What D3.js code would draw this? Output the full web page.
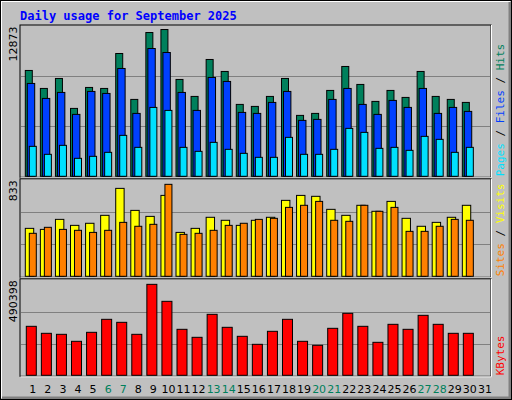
<!DOCTYPE html>
<html><head><meta charset="utf-8">
<script src="https://cdn.jsdelivr.net/npm/d3@7"></script>
<style>body{margin:0;background:#fff}svg{display:block}</style>
</head><body>
<script>
const days = d3.range(1, 32);
const weekends = [6,7,13,14,20,21,27,28];
const hits  = [9095,7550,8408,5834,7636,7550,10553,6607,12355,12613,8323,6864,10039,9009,6178,6006,6864,8408,5234,5405,7379,9438,7894,6435,7379,6778,9009,6864,6607,6349];
const files = [7979,6692,7207,5320,7293,7121,9266,5405,10982,10639,7207,5663,8494,8151,5491,5405,6349,7293,4805,4891,6607,7550,6178,5320,6521,5920,7550,5405,5920,5577];
const pages = [2574,1888,2660,1544,1716,2059,3518,2488,5920,5663,2488,2145,2917,2317,1973,1630,1630,3346,1888,1888,2317,4118,3775,2402,2488,2231,3432,3175,2059,2488];
const visits= [416,407,494,442,460,529,763,572,520,702,381,416,512,486,442,486,512,659,702,694,581,529,616,564,650,503,434,468,512,616];
const sites = [373,425,407,399,381,399,468,434,451,798,364,373,399,442,460,494,503,598,616,650,486,477,616,564,598,390,390,434,494,486];
const kbytes= [252840,216720,211560,175440,221880,288960,273480,211560,469560,381840,237360,196080,314760,247680,201240,159960,227040,288960,175440,154800,242520,319920,252840,170280,263160,237360,309600,263160,216720,216720];
const maxHits = 12873, maxVisits = 833, maxKB = 490398;
const title = "Daily usage for September 2025";

const W=512,H=400, font="'DejaVu Sans Mono', monospace";
const svg=d3.select("body").append("svg").attr("width",W).attr("height",H);
svg.append("rect").attr("x",0).attr("y",0).attr("width",W).attr("height",H).attr("fill","#C0C0C0");
// bevel
svg.append("path").attr("d","M1,398V1H510").attr("stroke","#fff").attr("fill","none").attr("stroke-width",2);
svg.append("path").attr("d","M2,398H510V2").attr("stroke","#808080").attr("fill","none").attr("stroke-width",3);
svg.append("rect").attr("x",0.5).attr("y",0.5).attr("width",W-1).attr("height",H-1).attr("fill","none").attr("stroke","#000");

svg.append("text").attr("x",20).attr("y",20).text(title).attr("font-family",font)
  .attr("font-size",12).attr("font-weight","bold").attr("fill","#0000FF");

const x = d3.scaleLinear().domain([1,2]).range([25.3,40.37]); // slot left edge

const panels=[
 {y0:26.5,y1:176.3,max:maxHits,label:"12873",series:[[hits,0,7,"#00805C"],[files,2,7.4,"#0040FF"],[pages,4,7,"#00E0FF"]],
  legend:[["Pages","#00E0FF"],[" / ","#000"],["Files","#0040FF"],[" / ","#000"],["Hits","#00805C"]]},
 {y0:180.3,y1:276.3,max:maxVisits,label:"833",series:[[visits,0,8.4,"#FFFF00"],[sites,4,7,"#FF8000"]],
  legend:[["Sites","#FF8000"],[" / ","#000"],["Visits","#FFFF00"]]},
 {y0:280.3,y1:375.3,max:maxKB,label:"490398",series:[[kbytes,1,10,"#FF0000"]],
  legend:[["KBytes","#FF0000"]]}
];
panels.forEach(p=>{
  const y=d3.scaleLinear().domain([0,p.max]).range([p.y1,p.y0]);
  const g=svg.append("g");
  g.append("rect").attr("x",20).attr("y",p.y0-1.5).attr("width",471).attr("height",p.y1-p.y0+2.5)
   .attr("fill","#C0C0C0").attr("stroke","#000");
  g.append("path").attr("d",`M20.5,${p.y1+1.5}H491.5V${p.y0-1.5}`).attr("stroke","#fff").attr("fill","none");
  [1/3,2/3].forEach(f=>g.append("line").attr("x1",21).attr("x2",490)
    .attr("y1",Math.round(y(p.max*f))+0.5).attr("y2",Math.round(y(p.max*f))+0.5).attr("stroke","#808080"));
  p.series.forEach(([vals,off,w,col])=>{
    g.selectAll(null).data(vals).enter().append("rect")
     .attr("x",(d,i)=>x(i+1)+off).attr("width",w)
     .attr("y",d=>y(d)).attr("height",d=>p.y1-y(d))
     .attr("fill",col).attr("stroke","#000").attr("stroke-width",1);
  });
  svg.append("text").attr("transform",`translate(17,${p.y0})rotate(-90)`).attr("text-anchor","end")
   .attr("font-family","'DejaVu Sans', sans-serif").attr("font-size",11).text(p.label);
  const t=svg.append("text").attr("transform",`translate(504,${p.y1})rotate(-90)`)
   .attr("font-family",font).attr("font-size",11);
  p.legend.forEach(([s,c])=>t.append("tspan").text(s).attr("fill",c).attr("xml:space","preserve"));
});
svg.selectAll(null).data(days).enter().append("text")
 .attr("x",d=>x(d)+7.5).attr("y",393).attr("text-anchor","middle")
 .attr("font-family","'DejaVu Sans', sans-serif").attr("font-size",11)
 .attr("fill",d=>weekends.includes(d)?"#00805C":"#000").text(d=>d);
</script>
</body></html>
